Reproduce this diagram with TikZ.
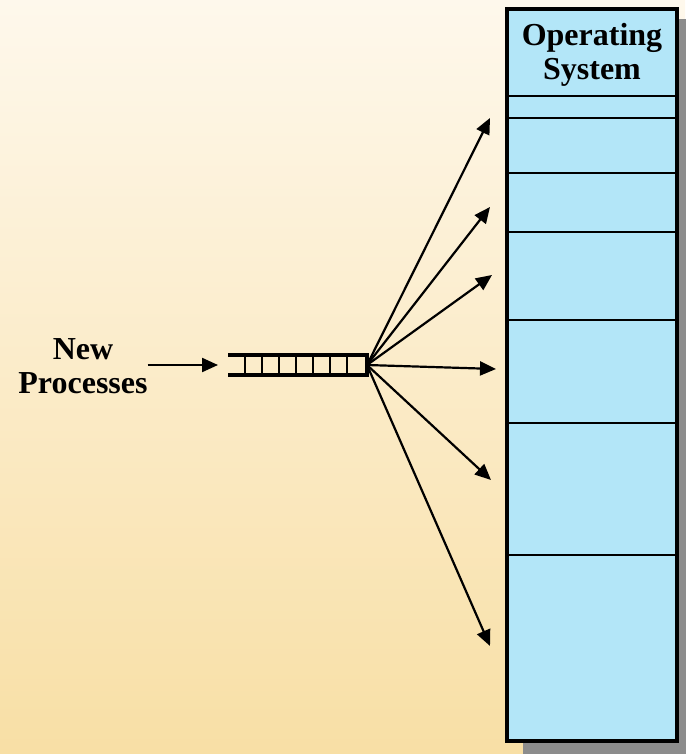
\documentclass[tikz,border=0pt]{standalone}
\usepackage{fontspec}
\setmainfont{Liberation Serif}
\usetikzlibrary{arrows.meta}
\definecolor{bgtop}{HTML}{FEF8EC}
\definecolor{bgbot}{HTML}{F8DFA5}
\definecolor{memfill}{HTML}{B3E6F8}
\definecolor{shadowgray}{HTML}{8C8C8C}
\begin{document}
\begin{tikzpicture}[x=1pt,y=-1pt,
  caption/.style={font=\fontsize{32}{34}\selectfont\bfseries, align=center, inner sep=0pt, outer sep=0pt},
  part/.style={draw=black, line width=2pt, fill=memfill, minimum width=170pt, inner sep=0pt, outer sep=0pt},
  feed/.style={-{Triangle[length=16pt,width=14pt]}, line width=2.2pt},
  qwall/.style={line width=4pt},
  qslot/.style={line width=2pt}]
  % background
  \useasboundingbox (0,0) rectangle (685,754);
  \shade[top color=bgtop, bottom color=bgbot] (0,0) rectangle (685,754);

  % memory column with its shadow
  \fill[shadowgray] (523,19) rectangle (700,760);
  \node[part, minimum height=87pt]  (os) at (592,52.5) {};
  \node[part, minimum height=22pt]  (p1) at (592,107) {};
  \node[part, minimum height=55pt]  (p2) at (592,145.5) {};
  \node[part, minimum height=59pt]  (p3) at (592,202.5) {};
  \node[part, minimum height=88pt]  (p4) at (592,276) {};
  \node[part, minimum height=103pt] (p5) at (592,371.5) {};
  \node[part, minimum height=132pt] (p6) at (592,489) {};
  \node[part, minimum height=186pt] (p7) at (592,648) {};
  \node[draw, line width=4pt, minimum width=170pt, minimum height=732pt, inner sep=0pt] (mem) at (592,375) {};
  \node[caption] (oslabel) at (592,55) {Operating\\System};

  % incoming processes
  \node[caption] (newproc) at (83,366) {New\\Processes};

  % queue
  \node[minimum width=139pt, minimum height=20.5pt, inner sep=0pt, outer sep=0pt] (queue) at (297.5,365) {};
  \foreach \x in {245,262,279,296,313,330,347}
    \draw[qslot] (\x,354.5) -- (\x,375);
  \draw[qwall] (queue.north west) -- (queue.north east) -- (queue.south east) -- (queue.south west);

  \draw[feed, shorten >=10pt] (newproc.east |- queue.west) -- (queue.west);

  % placement arrows
  \coordinate (t1) at (490,118);
  \coordinate (t2) at (490,207);
  \coordinate (t3) at (492,275);
  \coordinate (t4) at (496,369);
  \coordinate (t5) at (491,480);
  \coordinate (t6) at (490,646);
  \foreach \t in {t1,t2,t3,t4,t5,t6}
    \draw[feed] (queue.east) -- (\t);
\end{tikzpicture}
\end{document}
